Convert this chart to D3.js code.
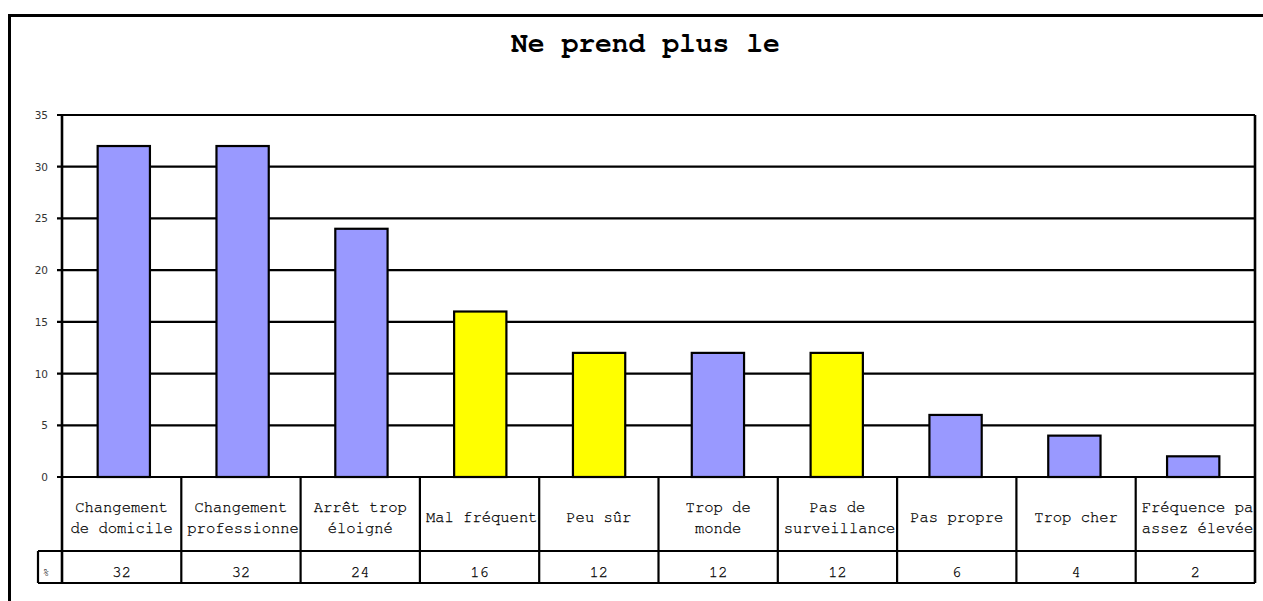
<!DOCTYPE html>
<html>
<head>
<meta charset="utf-8">
<script src="https://cdn.jsdelivr.net/npm/d3@7"></script>
<style>
  body { margin: 0; background: #fff; }
  svg { display: block; }
</style>
</head>
<body>
<svg id="chart" width="1263" height="601"></svg>
<script>
// data
const titleText = 'Ne prend plus le bus'
const categories = ['Changement de domicile', 'Changement professionnel', 'Arrêt trop éloigné',
  'Mal fréquenté', 'Peu sûr', 'Trop de monde', 'Pas de surveillance', 'Pas propre',
  'Trop cher', 'Fréquence pas assez élevée']
// label lines as they wrap in the table cells
const labelLines = [['Changement', 'de domicile'], ['Changement', 'professionnel'], ['Arrêt trop', 'éloigné'],
  ['Mal fréquenté'], ['Peu sûr'], ['Trop de', 'monde'], ['Pas de', 'surveillance'], ['Pas propre'],
  ['Trop cher'], ['Fréquence pas', 'assez élevée']]
const values = [32, 32, 24, 16, 12, 12, 12, 6, 4, 2]
const groups = ['autre', 'autre', 'autre', 'sécurité', 'sécurité', 'autre', 'sécurité', 'autre', 'autre', 'autre']
const yTicks = [0, 5, 10, 15, 20, 25, 30, 35]
const unitLabel = '%'

const svg = d3.select('#chart')
const mono = '"Nimbus Mono PS", "Nimbus Mono L", FreeMono, "Courier New", "Liberation Mono", monospace'

const plotLeft = 62, plotRight = 1255, plotTop = 115, plotBottom = 477
const row1 = 551, row2 = 583, unitLeft = 38

const x = d3.scaleBand().domain(categories).range([plotLeft, plotRight]).paddingInner(0.56).paddingOuter(0.3)
const cell = d3.scaleBand().domain(categories).range([plotLeft, plotRight])
const y = d3.scaleLinear().domain([0, 35]).range([plotBottom, plotTop])
const color = d3.scaleOrdinal().domain(['autre', 'sécurité']).range(['#9999ff', '#ffff00'])

// outer frame (cut by the window)
svg.append('path')
  .attr('d', 'M9.5,601 V15.5 H1263')
  .attr('fill', 'none').attr('stroke', '#000').attr('stroke-width', 3)

// title, clipped
svg.append('clipPath').attr('id', 'title-clip')
  .append('rect').attr('x', 0).attr('y', 0).attr('width', 784).attr('height', 100)
svg.append('text')
  .attr('clip-path', 'url(#title-clip)')
  .attr('x', 511).attr('y', 52)
  .style('font-family', mono).style('font-weight', 'bold').style('font-size', '28px')
  .text(titleText)

// grid lines
svg.append('g').selectAll('line')
  .data(yTicks)
  .enter().append('line')
  .attr('x1', plotLeft - 5).attr('x2', plotRight)
  .attr('y1', d => y(d)).attr('y2', d => y(d))
  .attr('stroke', '#000').attr('stroke-width', 2.2)

// y axis labels
svg.append('g').selectAll('text')
  .data(yTicks)
  .enter().append('text')
  .attr('x', 48).attr('y', d => y(d) + 4)
  .attr('text-anchor', 'end')
  .style('font-family', '"DejaVu Sans", sans-serif').style('font-size', '10.5px').attr('fill', '#333')
  .text(d => d)

// bars
svg.append('g').selectAll('rect')
  .data(values)
  .enter().append('rect')
  .attr('x', (d, i) => x(categories[i]))
  .attr('y', d => y(d))
  .attr('width', x.bandwidth())
  .attr('height', d => y(0) - y(d))
  .attr('fill', (d, i) => color(groups[i]))
  .attr('stroke', '#000').attr('stroke-width', 2.2)

// axis frame
svg.append('path')
  .attr('d', `M${plotLeft},${plotTop} V${row2} M${plotRight},${plotTop} V${row2}`)
  .attr('stroke', '#000').attr('stroke-width', 2.6)

// data table lines
const tbl = svg.append('g')
tbl.selectAll('line.v')
  .data(categories.slice(1))
  .enter().append('line')
  .attr('x1', d => cell(d)).attr('x2', d => cell(d))
  .attr('y1', plotBottom).attr('y2', row2)
  .attr('stroke', '#000').attr('stroke-width', 2.2)
tbl.append('path')
  .attr('d', `M${unitLeft},${row1} H${plotRight} M${unitLeft},${row2} H${plotRight} M${unitLeft},${row1} V${row2}`)
  .attr('stroke', '#000').attr('stroke-width', 2.2).attr('fill', 'none')

// labels clipped by their cell
const labels = tbl.selectAll('g.lab')
  .data(categories)
  .enter().append('g')
labels.append('clipPath').attr('id', (d, i) => 'cell' + i)
  .append('rect')
  .attr('x', d => cell(d) + 1).attr('y', plotBottom)
  .attr('width', cell.bandwidth() - 2).attr('height', row1 - plotBottom)
labels.each(function (d, i) {
  const g = d3.select(this)
  const lines = labelLines[i]
  const lh = 21
  const y0 = (plotBottom + row1) / 2 - (lines.length - 1) * lh / 2 + 8
  lines.forEach((t, k) => {
    const w = t.length * 15.5 * 0.6
    const wide = w > cell.bandwidth() - 8
    g.append('text')
      .attr('clip-path', `url(#cell${i})`)
      .attr('x', wide ? cell(d) + 6 : cell(d) + cell.bandwidth() / 2)
      .attr('y', y0 + k * lh)
      .attr('text-anchor', wide ? 'start' : 'middle')
      .style('font-family', mono).style('font-size', '15.5px').attr('fill', '#000')
      .attr('stroke', '#000').attr('stroke-width', 0.25)
      .text(t)
  })
})

// values row
tbl.selectAll('text.val')
  .data(values)
  .enter().append('text')
  .attr('x', (d, i) => cell(categories[i]) + cell.bandwidth() / 2)
  .attr('y', 577)
  .attr('text-anchor', 'middle')
  .style('font-family', mono).style('font-size', '15.5px').attr('fill', '#000')
  .attr('stroke', '#000').attr('stroke-width', 0.25)
  .text(d => d)

svg.append('text')
  .attr('x', 46).attr('y', 576)
  .attr('text-anchor', 'middle')
  .style('font-family', mono).style('font-size', '11px').attr('fill', '#000')
  .text(unitLabel)
</script>
</body>
</html>
